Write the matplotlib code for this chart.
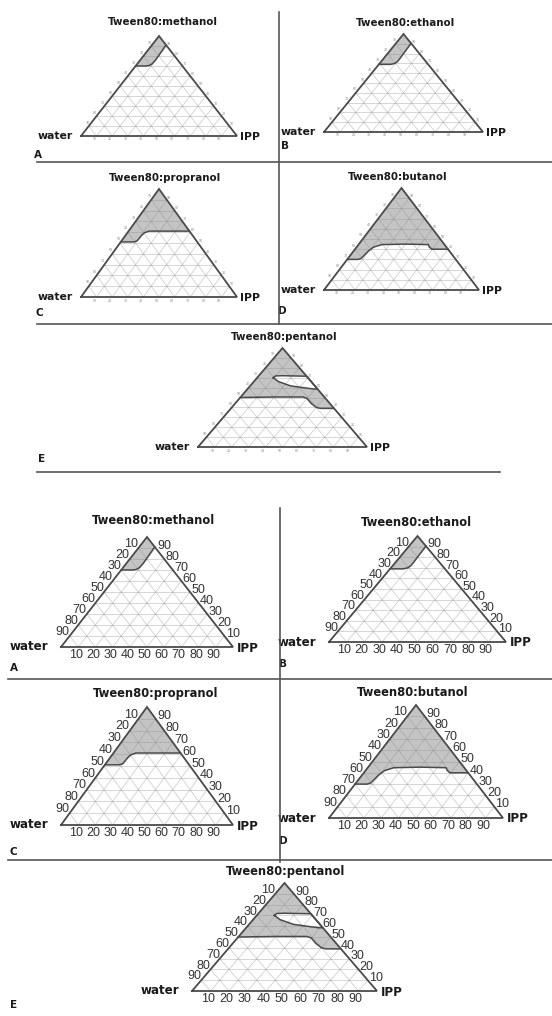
"""
Pseudo-ternary phase diagrams (Tween80:alcohol / water / IPP), two copies:
small-label version on top, large-label version below.
"""
import matplotlib
matplotlib.use('Agg')
import matplotlib.pyplot as plt
import numpy as np

# ---- data: phase boundary, (Smix %, IPP %) from left edge to right edge ----
TITLES = ['Tween80:methanol', 'Tween80:ethanol', 'Tween80:propranol',
          'Tween80:butanol', 'Tween80:pentanol']
LETTERS = ['A', 'B', 'C', 'D', 'E']

smix_methanol = [70, 70, 70.5, 72, 76, 91]
ipp_methanol = [0, 6.5, 8.5, 9.5, 9.8, 9]

smix_ethanol = [69, 69, 70, 72, 76, 90.5]
ipp_ethanol = [0, 7.5, 9.5, 10.3, 10.2, 9.5]

smix_propranol = [51, 51, 52, 57, 59.5, 61, 61]
ipp_propranol = [0, 8.5, 10, 10.3, 11, 13, 39]

smix_butanol = [30, 30, 31, 38, 42, 44.5, 45, 44.5, 42, 40, 40]
ipp_butanol = [0, 7, 8.5, 9.5, 11, 15, 30, 45, 47, 49.5, 60]

smix_pentanol = [50, 50.5, 50.5, 49, 44, 40, 39, 39]
ipp_pentanol = [0, 20, 37, 40, 45, 50, 53, 61]

# white (one-phase) lens inside the pentanol region, closed along the IPP edge
smix_pentanol_hole = [70, 66, 61.7, 60, 58.6, 58.5, 71.5, 72, 71.8, 70]
ipp_pentanol_hole = [9.5, 14.7, 24, 32, 39, 41.5, 28.5, 14, 10, 9.5]

BOUNDARY = [(smix_methanol, ipp_methanol), (smix_ethanol, ipp_ethanol),
            (smix_propranol, ipp_propranol), (smix_butanol, ipp_butanol),
            (smix_pentanol, ipp_pentanol)]
HOLES = [None, None, None, None, (smix_pentanol_hole, ipp_pentanol_hole)]

TICKS = [10, 20, 30, 40, 50, 60, 70, 80, 90]

# ---- layout (pixels): triangle left-x, base-y, right-x, apex-y ----
TRI_TOP = [(81, 136, 237, 36), (324, 132, 483, 34), (81, 297, 237, 189),
           (324, 290, 479, 188), (198, 447, 367, 348)]
TRI_BOT = [(61, 647, 233, 537), (329, 642, 506, 536), (61, 825, 233, 707),
           (329, 818, 503, 705), (192, 991, 377, 883)]
TITLE_TOP = [(163, 22), (406, 23), (165, 178), (398, 177), (284, 337)]
TITLE_BOT = [(153, 521), (416, 522), (156, 694), (413, 693), (286, 872)]
LETTER_TOP = [(34, 155), (281, 146), (36, 313), (278, 311), (38, 459)]
LETTER_BOT = [(10, 668), (279, 664), (10, 852), (279, 841), (10, 1005)]

SHADE = '#c4c4c4'
EDGE = '#4a4a4a'


def tern_xy(tri, smix, ipp):
    xl, yb, xr, yt = tri
    s = np.asarray(smix, dtype=float) / 100
    o = np.asarray(ipp, dtype=float) / 100
    return xl + (o + s / 2) * (xr - xl), yb + s * (yt - yb)


def draw_panel(ax, tri, title, title_xy, letter, letter_xy, bnd, hole, big):
    # shaded multiphase region: apex + boundary
    smix, ipp = bnd
    x, y = tern_xy(tri, [100] + list(smix), [0] + list(ipp))
    ax.fill(x, y, color=SHADE, lw=0, zorder=1)
    if hole is not None:
        hx, hy = tern_xy(tri, *hole)
        ax.fill(hx, hy, color='white', lw=0, zorder=1.5)

    # grid
    for k in TICKS:
        f = k
        for a, b in [((f, f), (0, 100 - f)), ((0, 100 - f), (f, f)),
                     ((0, 100 - f), (100 - f, 0))]:
            gx, gy = tern_xy(tri, a, b)
            ax.plot(gx, gy, color='#8a8a8a', alpha=0.4, lw=0.6, zorder=2)

    # boundary lines
    bx, by = tern_xy(tri, smix, ipp)
    ax.plot(bx, by, color=EDGE, lw=1.1, zorder=3, solid_joinstyle='round')
    if hole is not None:
        ax.plot(hx, hy, color=EDGE, lw=1.1, zorder=3)

    # triangle frame
    tx, ty = tern_xy(tri, [0, 100, 0, 0], [0, 0, 100, 0])
    ax.plot(tx, ty, color=EDGE, lw=1.3, zorder=4, solid_joinstyle='miter')

    # tick labels
    xl, yb, xr, yt = tri
    W = xr - xl
    if big:
        fs, col, gap = 9, '#333333', 3
        fam = 'Liberation Sans'
    else:
        fs, col, gap = 2.3, '#888888', 2
        fam = 'DejaVu Sans'
    for k in TICKS:
        # water (left edge)
        lx, ly = tern_xy(tri, 100 - k + 3.5, 0)
        ax.text(lx - gap, ly, str(k), ha='right', va='center', fontsize=fs,
                color=col, family=fam)
        # Smix (right edge)
        rx, ry = tern_xy(tri, k + 2, 100 - k - 2)
        ax.text(rx + gap, ry, str(k), ha='left', va='center', fontsize=fs,
                color=col, family=fam)
        # IPP (base)
        bx_, by_ = tern_xy(tri, 0, k - 1.5)
        ax.text(bx_, by_ + (2 if big else 1.5), str(k), ha='center', va='top',
                fontsize=fs, color=col, family=fam)

    tfs = 8.3 if big else 7.4
    lfs = 8.6 if big else 7.8
    ax.text(*title_xy, title, ha='center', va='center', fontsize=tfs,
            fontweight='bold', color='#1a1a1a')
    ax.text(xl - (13 if big else 8), yb, 'water', ha='right', va='center',
            fontsize=lfs, fontweight='bold', color='#1a1a1a')
    ax.text(xr + (4 if big else 3), yb + 1, 'IPP', ha='left', va='center',
            fontsize=lfs, fontweight='bold', color='#1a1a1a')
    ax.text(*letter_xy, letter, ha='left', va='center', fontsize=7.5,
            fontweight='bold', color='#1a1a1a')


def main():
    fig = plt.figure(figsize=(5.52, 10.16), dpi=100)
    ax = fig.add_axes([0, 0, 1, 1])
    ax.set_xlim(0, 552)
    ax.set_ylim(1016, 0)
    ax.axis('off')

    for i in range(5):
        draw_panel(ax, TRI_TOP[i], TITLES[i], TITLE_TOP[i], LETTERS[i],
                   LETTER_TOP[i], BOUNDARY[i], HOLES[i], big=False)
        draw_panel(ax, TRI_BOT[i], TITLES[i], TITLE_BOT[i], LETTERS[i],
                   LETTER_BOT[i], BOUNDARY[i], HOLES[i], big=True)

    sep = dict(color='#555555', lw=1.2, zorder=5)
    # top half separators
    ax.plot([37, 552], [162, 162], **sep)
    ax.plot([37, 552], [324, 324], **sep)
    ax.plot([279, 279], [12, 324], **sep)
    ax.plot([37, 500], [472, 472], **sep)
    # bottom half separators
    ax.plot([8, 552], [679, 679], **sep)
    ax.plot([8, 552], [860, 860], **sep)
    ax.plot([280, 280], [508, 862], **sep)

    fig.savefig('out.png', dpi=100)
    plt.close(fig)


if __name__ == '__main__':
    main()
